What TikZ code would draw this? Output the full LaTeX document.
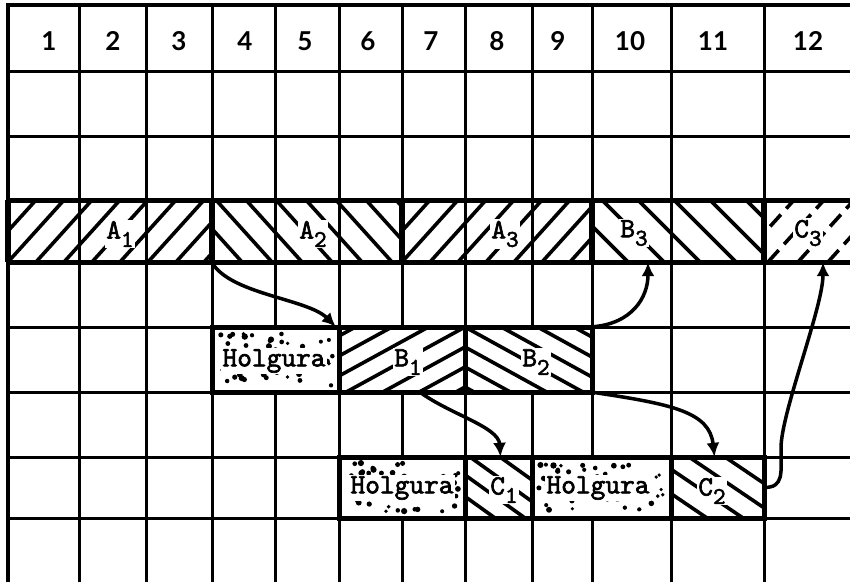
\documentclass[tikz,border=0pt]{standalone}
\usepackage{fontspec}
\usetikzlibrary{arrows.meta,fit}
\newfontfamily\hdrfont{Lato}
\newfontfamily\labfont{lmmono10-regular.otf}[FakeBold=2.2]
\newcommand\subs[1]{\raisebox{-0.3em}{\fontsize{24}{24}\selectfont #1}}
\tikzset{
  gridline/.style={line width=3pt},
  thickline/.style={line width=5pt},
  sepline/.style={line width=6.5pt},
  hatch/.style={line width=3.6pt},
  hdr/.style={font=\hdrfont\bfseries\fontsize{26}{26}\selectfont, inner sep=0pt},
  lab/.style={font=\labfont\fontsize{28}{28}\selectfont, fill=white, inner sep=1.5pt},
  flow/.style={line width=3.5pt, -{Latex[length=14pt,width=13pt]}},
  region/.style={inner sep=0pt},
}
% "/" hatching: [style]{x1}{y1}{x2}{y2}{spacing}{run}
\newcommand\hatchNE[7][]{%
  \begin{scope}
    \clip (#2,#3) rectangle (#4,#5);
    \pgfmathtruncatemacro\hN{((#4)-(#2)+(#7))/(#6)+1}%
    \foreach \k in {0,...,\hN}{%
      \pgfmathsetmacro\xs{(#2)-(#7)+\k*(#6)}%
      \draw[hatch,#1] (\xs,#5) -- ++(#7,{(#3)-(#5)});
    }%
  \end{scope}}
% "\" hatching
\newcommand\hatchSE[7][]{%
  \begin{scope}
    \clip (#2,#3) rectangle (#4,#5);
    \pgfmathtruncatemacro\hN{((#4)-(#2)+(#7))/(#6)+1}%
    \foreach \k in {0,...,\hN}{%
      \pgfmathsetmacro\xs{(#2)-(#7)+\k*(#6)}%
      \draw[hatch,#1] (\xs,#3) -- ++(#7,{(#5)-(#3)});
    }%
  \end{scope}}
% random dots
\newcommand\speckle[5]{%
  \foreach \i in {1,...,#5}{%
    \pgfmathsetmacro\px{(#1)+6+rnd*((#3)-(#1)-12)}%
    \pgfmathsetmacro\py{(#2)+6+rnd*((#4)-(#2)-12)}%
    \pgfmathsetmacro\pr{1.7+rnd*1.5}%
    \fill (\px,\py) circle (\pr pt);
  }}
\begin{document}
\begin{tikzpicture}[x=1pt,y=-1pt]
\pgfmathsetseed{42}
\useasboundingbox (0,0) rectangle (850,582);
\fill[white] (0,0) rectangle (850,582);

% band hatching
\hatchNE{8}{200}{212}{262}{28}{56}
\hatchSE{212}{200}{402}{262}{30}{56}
\hatchNE{402}{200}{592}{262}{28}{56}
\hatchSE{592}{200}{764}{262}{36}{62}
\hatchNE[dash pattern=on 16pt off 8pt]{764}{200}{850}{262}{30}{56}

% grid
\foreach \x in {79,146,212,275,339,402,465,532,592,671,764}
  \draw[gridline] (\x,5) -- (\x,582);
\foreach \y in {71,136,327,392,457,518}
  \draw[gridline] (8,\y) -- (850,\y);

% boxes of rows 5 and 7
\fill[white] (212,327) rectangle (592,392);
\fill[white] (339,457) rectangle (764,518);
\speckle{212}{327}{339}{392}{50}
\speckle{339}{457}{465}{518}{50}
\speckle{532}{457}{671}{518}{55}
\begin{scope}
  \clip (339,327) rectangle (592,392);
  \foreach \k in {-4,...,4}
    \draw[hatch] (339,{327+\k*20+69}) -- (465,{327+\k*20}) -- (592,{327+\k*20+70});
\end{scope}
\hatchSE{465}{457}{532}{518}{30}{85}
\hatchSE{671}{457}{764}{518}{36}{90}

% heavy lines
\draw[line width=4pt] (6,5) -- (850,5);
\draw[line width=4pt] (8,3) -- (8,582);
\draw[thickline] (8,200) -- (850,200);
\draw[thickline] (8,262) -- (850,262);
\foreach \x in {8,212,402,592,764}
  \draw[sepline] (\x,200) -- (\x,262);
\draw[thickline] (212,327) rectangle (592,392);
\foreach \x in {339,465}
  \draw[thickline] (\x,327) -- (\x,392);
\draw[thickline] (339,457) rectangle (764,518);
\foreach \x in {465,532,671}
  \draw[thickline] (\x,457) -- (\x,518);

% regions
\node[region, fit={(8,200) (212,262)}] (A1) {};
\node[region, fit={(212,200) (402,262)}] (A2) {};
\node[region, fit={(402,200) (592,262)}] (A3) {};
\node[region, fit={(592,200) (764,262)}] (B3) {};
\node[region, fit={(764,200) (850,262)}] (C3) {};
\node[region, fit={(212,327) (339,392)}] (H1) {};
\node[region, fit={(339,327) (465,392)}] (B1) {};
\node[region, fit={(465,327) (592,392)}] (B2) {};
\node[region, fit={(339,457) (465,518)}] (H2) {};
\node[region, fit={(465,457) (532,518)}] (C1) {};
\node[region, fit={(532,457) (671,518)}] (H3) {};
\node[region, fit={(671,457) (764,518)}] (C2) {};

% header
\node[hdr] (n1) at (49,41) {1};
\node[hdr] (n2) at (113,41) {2};
\node[hdr] (n3) at (179,41) {3};
\node[hdr] (n4) at (245,41) {4};
\node[hdr] (n5) at (305,41) {5};
\node[hdr] (n6) at (368,41) {6};
\node[hdr] (n7) at (431,41) {7};
\node[hdr] (n8) at (497,41) {8};
\node[hdr] (n9) at (558,41) {9};
\node[hdr] (n10) at (630,41) {10};
\node[hdr] (n11) at (713,41) {11};
\node[hdr] (n12) at (808,41) {12};

% labels
\node[lab] (tA1) at (120,234) {A\subs{1}};
\node[lab] (tA2) at (313,234) {A\subs{2}};
\node[lab] (tA3) at (505,234) {A\subs{3}};
\node[lab] (tB3) at (634,233) {B\subs{3}};
\node[lab] (tC3) at (808,233) {C\subs{3}};
\node[lab] (tH1) at (274,361) {Holgura};
\node[lab] (tB1) at (408,362) {B\subs{1}};
\node[lab] (tB2) at (536,362) {B\subs{2}};
\node[lab] (tH2) at (402,488) {Holgura};
\node[lab] (tC1) at (504,490) {C\subs{1}};
\node[lab] (tH3) at (598,488) {Holgura};
\node[lab] (tC2) at (712,491) {C\subs{2}};

% connectors
\coordinate (k5) at (781,448);
\draw[flow] (A2.south west) .. controls +(18,32) and +(-28,-28) .. ([xshift=-3pt]B1.north west);
\draw[flow] ([xshift=18pt]B1.south) .. controls +(30,22) and +(-2,-30) .. ([xshift=2pt]C1.north);
\draw[flow] (B2.south east) .. controls +(80,12) and +(-5,-45) .. ([xshift=-3pt]C2.north);
\draw[flow] (B2.north east) .. controls +(40,-3) and +(0,35) .. ([xshift=-30pt]B3.south);
\draw[flow] (C2.east) .. controls +(20,0) and +(0,25) .. (k5) .. controls +(0,-35) and +(0,45) .. ([xshift=16pt]C3.south);
\end{tikzpicture}
\end{document}
